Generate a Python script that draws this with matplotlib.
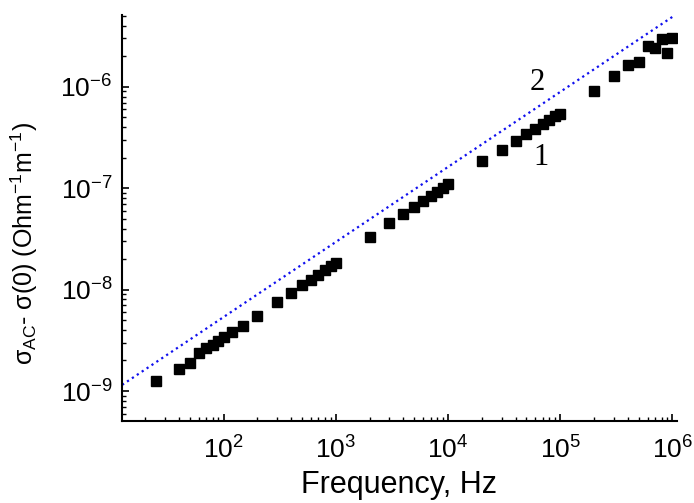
import matplotlib
matplotlib.use("Agg")
import matplotlib.pyplot as plt
from matplotlib.ticker import LogLocator

plt.rcParams['font.family'] = ['Liberation Sans', 'DejaVu Sans']
plt.rcParams['mathtext.fontset'] = 'custom'
plt.rcParams['mathtext.rm'] = 'Liberation Sans'
plt.rcParams['mathtext.it'] = 'Liberation Sans:italic'
plt.rcParams['axes.unicode_minus'] = False

# curve 1: measured points
freq = [25, 40, 50, 60, 70, 80, 90, 100, 120, 150, 200, 300, 400, 500, 600, 700,
        800, 900, 1000, 2000, 3000, 4000, 5000, 6000, 7000, 8000, 9000, 10000,
        2e4, 3e4, 4e4, 5e4, 6e4, 7e4, 8e4, 9e4, 1e5,
        2e5, 3e5, 4e5, 5e5, 6e5, 7e5, 8e5, 9e5, 1e6]
sigma = [1.25e-9, 1.65e-9, 1.9e-9, 2.35e-9, 2.65e-9, 2.85e-9, 3.1e-9, 3.4e-9,
         3.8e-9, 4.4e-9, 5.5e-9, 7.5e-9, 9.3e-9, 1.1e-8, 1.25e-8, 1.4e-8,
         1.55e-8, 1.7e-8, 1.85e-8, 3.3e-8, 4.5e-8, 5.6e-8, 6.5e-8, 7.4e-8,
         8.3e-8, 9.2e-8, 1.0e-7, 1.1e-7,
         1.86e-7, 2.4e-7, 2.95e-7, 3.45e-7, 3.8e-7, 4.3e-7, 4.7e-7, 5.1e-7, 5.4e-7,
         9.2e-7, 1.29e-6, 1.64e-6, 1.77e-6, 2.54e-6, 2.44e-6, 2.98e-6, 2.14e-6, 3.0e-6]

# curve 2: power-law line
line_f = [12.5, 1e6]
line_s = [1.15e-9, 4.9e-6]

fig = plt.figure(figsize=(6.94, 5.03), dpi=100)
ax = fig.add_axes([0.176, 0.163, 0.799, 0.807])

ax.plot(line_f, line_s, ':', color='#1010ee', lw=1.6)
ax.plot(freq, sigma, 's', color='black', ms=7, mec='black')

ax.set_xscale('log')
ax.set_yscale('log')
ax.set_xlim(12.5, 1.09e6)
ax.set_ylim(5.06e-10, 5.1e-6)

ax.text(6.3e4, 1.1e-6, '2', family='Liberation Serif', fontsize=22, ha='center', va='center')
ax.text(6.7e4, 2.0e-7, '1', family='Liberation Serif', fontsize=22, ha='center', va='center')

for s in ['top', 'right']:
    ax.spines[s].set_visible(False)
for s in ['left', 'bottom']:
    ax.spines[s].set_linewidth(1.5)

ax.xaxis.set_major_locator(LogLocator(base=10, numticks=20))
ax.xaxis.set_minor_locator(LogLocator(base=10, subs=range(2, 10), numticks=20))
ax.yaxis.set_major_locator(LogLocator(base=10, numticks=20))
ax.yaxis.set_minor_locator(LogLocator(base=10, subs=range(2, 10), numticks=20))

ax.tick_params(which='major', direction='in', length=5, width=1.2, labelsize=19)
ax.tick_params(axis='x', which='major', pad=11)
ax.tick_params(axis='y', which='major', pad=7)
ax.tick_params(which='minor', direction='in', length=3, width=1.0)

ax.set_xlabel('Frequency, Hz', fontsize=22, labelpad=5)
ax.set_ylabel(r'σ$_{\mathregular{AC}}$- σ(0) (Ohm$^{\mathregular{-1}}$m$^{\mathregular{-1}}$)',
              fontsize=18)
ax.yaxis.set_label_coords(-0.148, 0.438)

fig.savefig('out.png', dpi=100)
